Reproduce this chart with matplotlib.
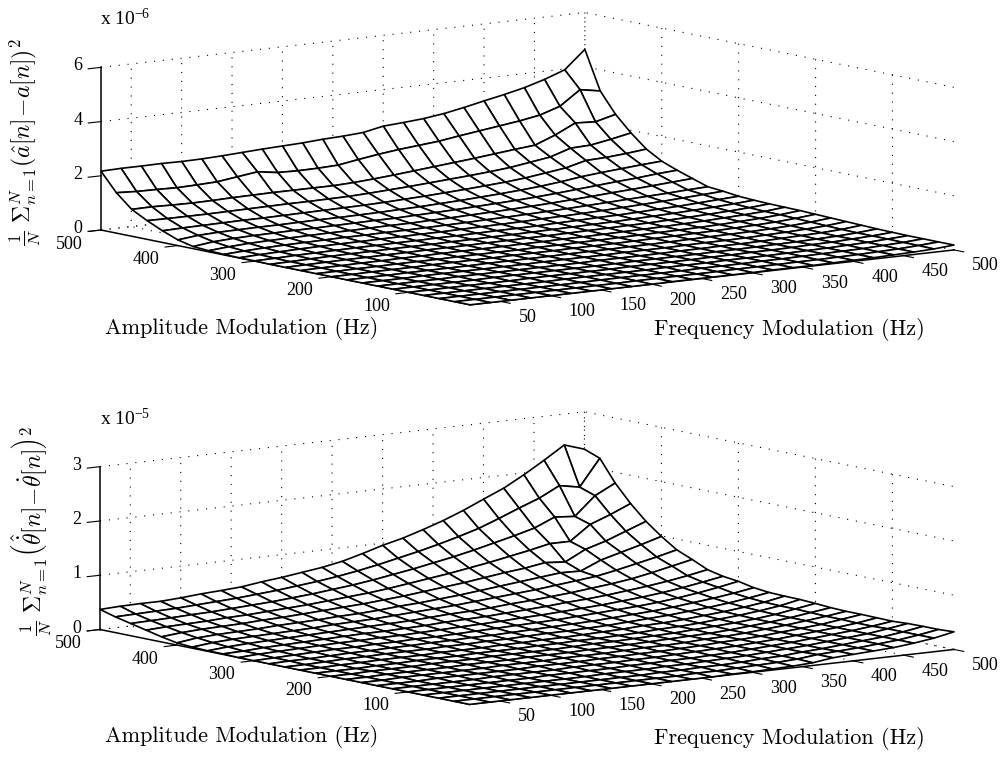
# -*- coding: utf-8 -*-
"""Two MATLAB style mesh plots of estimation error, amplitude and frequency modulation."""
import matplotlib
matplotlib.use('Agg')
import numpy as np
import matplotlib.pyplot as plt
from mpl_toolkits.mplot3d import proj3d

plt.rcParams['mathtext.fontset'] = 'cm'

fm_hz = [20, 40, 60, 80, 100, 120, 140, 160, 180, 200, 220, 240, 260,
         280, 300, 320, 340, 360, 380, 400, 420, 440, 460, 480, 500]
am_hz = [20, 40, 60, 80, 100, 120, 140, 160, 180, 200, 220, 240, 260,
         280, 300, 320, 340, 360, 380, 400, 420, 440, 460, 480, 500]

# one row per AM value (20 Hz first), columns follow fm_hz. Units of 1e-6
amp_err = [
    [0,0,0,0,0,0,0,0,0,0,.01,.01,.01,.01,.01,.02,.02,.02,.03,.04,.05,.07,.09,.12,.18],
    [0,0,0,0,0,0,0,0,0,.01,.01,.01,.01,.01,.02,.02,.02,.03,.03,.04,.05,.07,.09,.13,.18],
    [0,0,0,0,0,0,0,0,.01,.01,.01,.01,.01,.02,.02,.02,.03,.03,.04,.05,.06,.07,.10,.13,.18],
    [0,0,0,0,0,0,0,.01,.01,.01,.01,.01,.02,.02,.02,.03,.03,.03,.04,.05,.06,.08,.10,.14,.18],
    [0,0,0,0,0,0,.01,.01,.01,.01,.01,.02,.02,.02,.02,.03,.03,.04,.04,.05,.07,.08,.11,.14,.19],
    [0,0,0,0,0,.01,.01,.01,.01,.01,.01,.01,.02,.02,.02,.02,.03,.03,.04,.05,.06,.08,.10,.14,.20],
    [0,0,0,0,.01,.01,.01,.01,.01,.01,.01,.02,.02,.02,.02,.03,.03,.04,.04,.05,.07,.09,.11,.15,.22],
    [0,0,0,.01,.01,.01,.01,.01,.01,.02,.02,.02,.02,.03,.03,.03,.04,.05,.05,.06,.08,.10,.13,.17,.24],
    [0,0,0,.01,.01,.01,.01,.02,.02,.02,.02,.03,.03,.03,.04,.04,.05,.06,.07,.08,.09,.11,.14,.19,.26],
    [0,0,.01,.01,.01,.02,.02,.02,.02,.03,.03,.03,.04,.04,.04,.05,.06,.07,.08,.09,.11,.13,.16,.21,.28],
    [0,0,.01,.01,.02,.02,.02,.03,.03,.03,.03,.04,.04,.05,.05,.06,.07,.08,.09,.10,.12,.15,.18,.23,.30],
    [0,.01,.01,.02,.02,.03,.03,.04,.04,.04,.04,.05,.05,.06,.06,.07,.08,.09,.10,.12,.14,.17,.20,.24,.31],
    [0,.01,.02,.03,.03,.04,.04,.05,.05,.05,.06,.06,.07,.07,.08,.09,.10,.11,.12,.14,.16,.19,.22,.26,.32],
    [0,.01,.03,.04,.05,.05,.06,.06,.06,.07,.07,.08,.08,.09,.10,.11,.12,.13,.15,.17,.19,.22,.25,.29,.34],
    [.01,.02,.04,.05,.06,.07,.07,.08,.08,.09,.09,.10,.11,.11,.12,.14,.15,.17,.18,.20,.23,.25,.29,.33,.37],
    [.01,.04,.06,.08,.09,.10,.10,.11,.11,.12,.12,.13,.14,.15,.16,.18,.19,.21,.23,.26,.29,.32,.36,.40,.44],
    [.02,.06,.09,.11,.12,.13,.14,.14,.15,.15,.16,.17,.18,.20,.21,.23,.25,.27,.30,.33,.36,.39,.42,.46,.49],
    [.04,.10,.14,.16,.17,.18,.19,.19,.20,.21,.21,.23,.24,.26,.28,.30,.33,.36,.40,.44,.49,.53,.58,.63,.68],
    [.08,.17,.21,.23,.24,.25,.25,.26,.27,.28,.28,.30,.32,.34,.37,.40,.43,.47,.52,.58,.64,.70,.75,.82,.87],
    [.21,.29,.32,.33,.34,.34,.35,.36,.36,.37,.38,.40,.42,.45,.48,.52,.56,.61,.67,.75,.85,.92,.98,1.04,1.09],
    [.43,.45,.46,.47,.48,.48,.49,.50,.51,.52,.53,.55,.58,.61,.65,.69,.74,.79,.86,.96,1.06,1.25,1.28,1.34,1.42],
    [.69,.68,.68,.68,.69,.70,.71,.72,.72,.73,.74,.77,.81,.85,.90,.95,1.00,1.06,1.13,1.24,1.35,1.59,1.62,1.75,1.90],
    [.99,1.00,.98,.97,.98,1.00,1.01,1.02,1.02,1.02,1.02,1.05,1.10,1.16,1.23,1.30,1.37,1.44,1.52,1.60,1.67,1.96,2.32,2.28,2.47],
    [1.49,1.45,1.44,1.42,1.44,1.47,1.57,1.67,1.56,1.54,1.55,1.58,1.70,1.81,1.90,1.97,2.04,2.15,2.25,2.35,2.45,2.58,2.82,3.35,3.22],
    [2.17,2.19,2.19,2.20,2.19,2.20,2.23,2.27,2.31,2.34,2.37,2.42,2.45,2.50,2.65,2.70,2.76,2.86,3.00,3.16,3.31,3.48,3.70,3.97,4.64],
]

# same layout, units of 1e-5
freq_err = [
    [0,0,0,0,0,0,0,0,0,0,0,0,0,.01,.01,.02,.03,.05,.10,.12,.14,.16,.20,.25,.325],
    [0,0,0,0,0,0,0,0,0,0,0,0,.01,.01,.02,.03,.04,.06,.10,.12,.14,.17,.20,.25,.31],
    [0,0,0,0,0,0,0,0,0,0,0,.01,.01,.02,.02,.03,.05,.06,.09,.11,.14,.17,.20,.25,.31],
    [0,0,0,0,0,0,0,0,0,.01,.01,.01,.02,.02,.03,.04,.05,.07,.09,.11,.14,.17,.20,.25,.305],
    [0,0,0,0,0,0,0,.01,.01,.01,.01,.02,.02,.03,.03,.04,.05,.07,.09,.11,.14,.17,.20,.24,.29],
    [0,0,0,0,0,.01,.01,.01,.01,.02,.02,.02,.03,.03,.04,.05,.06,.07,.09,.11,.14,.17,.20,.24,.295],
    [0,0,0,.01,.01,.01,.01,.01,.02,.02,.02,.03,.03,.04,.04,.05,.06,.08,.09,.11,.14,.17,.20,.25,.30],
    [0,0,.01,.01,.01,.01,.01,.02,.02,.02,.03,.03,.03,.04,.05,.05,.06,.08,.09,.11,.14,.17,.21,.25,.30],
    [0,0,.01,.01,.01,.01,.02,.02,.02,.03,.03,.03,.04,.04,.05,.06,.07,.08,.09,.11,.14,.17,.21,.26,.31],
    [0,0,.01,.01,.01,.02,.02,.02,.03,.03,.03,.03,.04,.05,.05,.06,.07,.08,.10,.12,.14,.17,.21,.27,.33],
    [0,0,0,.01,.01,.02,.02,.02,.03,.03,.03,.04,.04,.05,.05,.06,.07,.09,.10,.12,.15,.18,.22,.27,.345],
    [0,0,.01,.01,.02,.02,.02,.03,.03,.03,.04,.04,.05,.05,.06,.07,.08,.10,.11,.13,.16,.19,.23,.28,.35],
    [0,0,.01,.02,.02,.03,.03,.03,.04,.04,.05,.05,.06,.07,.07,.08,.09,.11,.13,.15,.18,.21,.25,.30,.36],
    [0,.01,.01,.02,.03,.03,.04,.04,.05,.05,.06,.06,.07,.08,.09,.10,.11,.13,.15,.17,.20,.24,.28,.33,.39],
    [0,.01,.02,.03,.04,.04,.05,.05,.06,.06,.07,.08,.09,.10,.11,.12,.14,.16,.18,.20,.23,.27,.32,.38,.45],
    [0,.02,.03,.04,.05,.06,.06,.07,.07,.08,.09,.10,.11,.12,.14,.15,.17,.19,.21,.24,.27,.31,.36,.42,.485],
    [.01,.02,.04,.05,.06,.07,.08,.09,.09,.10,.11,.13,.14,.15,.17,.19,.21,.24,.26,.29,.33,.37,.42,.48,.55],
    [.01,.04,.06,.07,.08,.09,.10,.11,.12,.13,.14,.16,.18,.19,.21,.24,.26,.29,.32,.36,.40,.45,.52,.60,.68],
    [.02,.06,.08,.09,.10,.11,.12,.14,.15,.16,.18,.20,.22,.24,.27,.30,.33,.36,.40,.44,.48,.55,.63,.71,.80],
    [.04,.09,.11,.12,.13,.15,.16,.17,.19,.20,.22,.25,.27,.30,.33,.37,.41,.45,.49,.53,.52,.68,.78,.88,.99],
    [.095,.13,.15,.16,.17,.19,.20,.22,.24,.26,.28,.31,.34,.38,.42,.46,.51,.56,.60,.66,.63,.82,.93,1.07,1.21],
    [.16,.18,.19,.20,.22,.23,.25,.27,.29,.32,.35,.38,.42,.47,.52,.57,.63,.69,.76,.83,.91,.91,1.18,1.32,1.48],
    [.225,.235,.245,.26,.27,.29,.31,.33,.36,.39,.43,.47,.52,.58,.64,.71,.78,.86,.95,1.04,1.14,1.30,1.27,1.61,1.80],
    [.29,.30,.31,.32,.34,.36,.38,.41,.44,.48,.52,.57,.63,.70,.78,.86,.95,1.05,1.16,1.30,1.45,1.59,1.78,1.71,2.20],
    [.37,.386,.393,.393,.414,.445,.465,.49,.54,.58,.63,.68,.75,.85,.96,1.05,1.165,1.29,1.435,1.60,1.76,1.965,2.19,2.43,2.31],
]

fm_ticks = [50, 100, 150, 200, 250, 300, 350, 400, 450, 500]
am_ticks = [100, 200, 300, 400, 500]
amp_zticks = [0, 2, 4, 6]
freq_zticks = [0, 1, 2, 3]

W, H = 1003, 757
fig = plt.figure(figsize=(W / 100, H / 100), dpi=100, facecolor='white')


def corner_px(ax, x, y, z):
    xs, ys, _ = proj3d.proj_transform(x, y, z, ax.get_proj())
    return ax.transData.transform((xs, ys))


def fit_axes(ax, left, right):
    # scale and shift the square axes until two floor corners land on the given pixels
    side = 800.0
    ax.set_position([0.1, 0.1, side / W, side / H])
    fig.canvas.draw()
    origin = np.array([0.1 * W, 0.1 * H])
    p_l = corner_px(ax, 20, 500, 0)
    p_r = corner_px(ax, 500, 20, 0)
    k = (right[0] - left[0]) / (p_r[0] - p_l[0])
    target = np.array([left[0], H - left[1]])
    new_origin = target - (p_l - origin) * k
    new_side = side * k
    ax.set_position([new_origin[0] / W, new_origin[1] / H, new_side / W, new_side / H])
    fig.canvas.draw()


def tick_text(ax, x, y, z, dx, dy, s, ha='center'):
    # tick label at a pixel offset from the projected tick position
    p = corner_px(ax, x, y, z)
    fig.text((p[0] + dx) / W, (p[1] - dy) / H, s, ha=ha, va='center',
             family='Liberation Serif', fontsize=13)


def mesh_panel(z_rows, zticks, left, right):
    ax = fig.add_subplot(projection='3d', computed_zorder=False)
    ax.set_proj_type('ortho')
    ax.view_init(elev=8.72, azim=233.2)
    ax.set_facecolor('none')
    ax.set_box_aspect((606, 618, 165))
    ax.set_xlim(20, 500, view_margin=0)
    ax.set_ylim(20, 500, view_margin=0)
    ax.set_zlim(zticks[0], zticks[-1], view_margin=0)

    X, Y = np.meshgrid(fm_hz, am_hz)
    surf = ax.plot_surface(X, Y, np.array(z_rows), rstride=1, cstride=1, color='white',
                           edgecolor='black', linewidth=1.2, shade=False, antialiased=True)
    # the square axes box ends before the right tip of the mesh
    surf.set_clip_on(False)

    ax.set_xticks(fm_ticks)
    ax.set_yticks(am_ticks)
    ax.set_zticks(zticks)
    for axis, labels in ((ax.xaxis, fm_ticks), (ax.yaxis, am_ticks), (ax.zaxis, zticks)):
        axis.set_pane_color((1, 1, 1, 0))
        axis.pane.set_edgecolor('none')
        axis.line.set_color('black')
        axis.line.set_linewidth(1.1)
        axis._axinfo['grid'].update(color='black', linewidth=0.8, linestyle=(0, (1, 7)))
        axis._axinfo['tick'].update(inward_factor=0.33, outward_factor=0)
        axis.set_ticklabels([''] * len(labels))
    fit_axes(ax, left, right)

    for v in fm_ticks:
        tick_text(ax, v, 20, 0, 18, 16, str(v), ha='left')
    for v in am_ticks:
        tick_text(ax, 20, v, 0, -32, 14, str(v))
    for v in zticks:
        tick_text(ax, 20, 500, v, -23, -1.5, str(v))
    return ax


ax_top = mesh_panel(amp_err, amp_zticks, (101, 230), (954, 249))
ax_bot = mesh_panel(freq_err, freq_zticks, (100, 629.5), (954, 648))


def label(x, y, s, **kw):
    fig.text(x / W, 1 - y / H, s, ha='center', va='center', **kw)


for y_am, y_fm in ((329, 330), (737, 739)):
    label(242, y_am, 'Amplitude Modulation (Hz)', family='cmr10', fontsize=16)
    label(789, y_fm, 'Frequency Modulation (Hz)', family='cmr10', fontsize=16)

label(125, 18, r'x $\mathdefault{10^{-6}}$', family='Liberation Serif', fontsize=14)
label(125, 418, r'x $\mathdefault{10^{-5}}$', family='Liberation Serif', fontsize=14)

label(25, 142, r'$\frac{1}{N}\ {\Sigma}_{n=1}^{N}(\hat{a}[n]\!-\!a[n])^2$', rotation=90, fontsize=17)
label(32, 531, r'$\frac{1}{N}\ {\Sigma}_{n=1}^{N}\left(\hat{\dot{\theta}}[n]\!-\!\dot{\theta}[n]\right)^2$',
      rotation=90, fontsize=17)

fig.savefig('out.png', dpi=100, facecolor='white')
